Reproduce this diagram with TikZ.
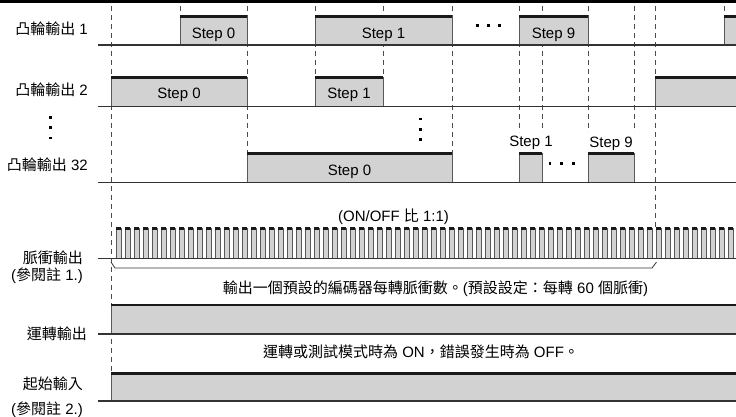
\documentclass[tikz,border=0pt]{standalone}
\usepackage{fontspec}
\setmainfont{Liberation Sans}
\newfontfamily\cjk{Noto Sans CJK TC}
\newcommand{\zh}[1]{{\cjk #1}}
\usepackage{tikz}

\begin{document}
\begin{tikzpicture}[x=1pt,y=-1pt,
  every node/.style={font=\fontsize{15}{17}\selectfont, inner sep=0pt},
  baseln/.style={line width=1.6pt, black!80},
  guide/.style={black!70, line width=0.8pt, dash pattern=on 5pt off 4pt},
  level/.style={fill=gray!35},
  edge/.style={black!65, line width=0.9pt},
  topline/.style={line width=2.6pt, black!90}]
\useasboundingbox (0,0) rectangle (736,416);
\draw[line width=2.6pt] (0,1.3) -- (736,1.3);

% dashed guides
\foreach \x/\a/\b in {111/6/373, 180/6/16, 247/6/153, 315/6/78, 383/6/78, 452/6/153,
  519/6/132, 542/6/132, 588/6/132, 634/6/132, 655/6/228, 724/6/16}
  \draw[guide] (\x,\a) -- (\x,\b);

% levels: top/bottom/left/right
\foreach \t/\b/\l/\r in {16.2/45.2/180/247, 16.2/45.2/315/452, 16.2/45.2/519/588, 16.2/45.2/724/740,
  77.7/106.3/111/247, 77.7/106.3/315/383, 77.7/106.3/655/740,
  153.3/182.5/247/452, 153.3/182.5/519/542, 153.3/182.5/588/634,
  305/333.8/111/740, 373.3/401.2/111/740}
{
  \fill[level] (\l,\t) rectangle (\r,\b);
  \draw[edge] (\l,\b) -- (\l,\t) -- (\r,\t) -- (\r,\b);
  \draw[topline] (\l,\t) -- (\r,\t);
}

% pulse train
\foreach \k in {0,...,68}
{
  \fill[level] (116+9*\k,228.7) rectangle (121+9*\k,258.3);
  \draw[edge] (116+9*\k,258.3) -- (116+9*\k,228.7) -- (121+9*\k,228.7) -- (121+9*\k,258.3);
  \draw[topline] (116+9*\k,228.7) -- (121+9*\k,228.7);
}

\foreach \y in {45.2, 106.3, 182.5, 258.3, 333.8, 401.2}
  \draw[baseln] (98,\y) -- (736,\y);

% bracket under 60 pulses
\coordinate (brL) at (111,262);
\coordinate (brR) at (656.5,262);
\draw[black!80, line width=0.8pt] (brL) -- (115,268) -- (652,268) -- (brR);

% dots
\foreach \x/\y in {50.3/117.5, 50.3/127.7, 50.3/138, 420.3/119, 420.3/129.3, 420.3/139.7,
  477.3/25.5, 488.5/25.5, 499.5/25.5, 550/163.3, 561.7/163.3, 573.3/163.3}
  \fill (\x-1.3,\y-1.3) rectangle (\x+1.3,\y+1.3);

% row labels
\node[anchor=base east] (cam1) at (88,34.3) {\zh{凸輪輸出} 1};
\node[anchor=base east] (cam2) at (88,95) {\zh{凸輪輸出} 2};
\node[anchor=base east] (cam32) at (88,170) {\zh{凸輪輸出} 32};
\node[anchor=base east] (pulseout) at (83,263) {\zh{脈衝輸出}};
\node[anchor=base east] (note1) at (83,280) {(\zh{參閱註} 1.)};
\node[anchor=base east] (runout) at (87,339) {\zh{運轉輸出}};
\node[anchor=base east] (startin) at (83,389) {\zh{起始輸入}};
\node[anchor=base east] (note2) at (83,414) {(\zh{參閱註} 2.)};

% step labels
\node[anchor=base] (c1s0) at (213.5,38.3) {Step 0};
\node[anchor=base] (c1s1) at (383.5,38.3) {Step 1};
\node[anchor=base] (c1s9) at (553.5,38.3) {Step 9};
\node[anchor=base] (c2s0) at (179,98.3) {Step 0};
\node[anchor=base] (c2s1) at (349,98.3) {Step 1};
\node[anchor=base] (c32s0) at (349.5,175) {Step 0};
\node[anchor=base] (c32s1) at (531,146) {Step 1};
\node[anchor=base] (c32s9) at (611,147.5) {Step 9};

% notes
\node[anchor=base] (ratio) at (393.5,221) {(ON/OFF \zh{比} 1:1)};
\node[anchor=base] (count) at (435.5,293) {\zh{輸出一個預設的編碼器每轉脈衝數。}(\zh{預設設定：每轉} 60 \zh{個脈衝})};
\node[anchor=base] (runnote) at (421,357) {\zh{運轉或測試模式時為} ON\zh{，錯誤發生時為} OFF\zh{。}};
\end{tikzpicture}
\end{document}
